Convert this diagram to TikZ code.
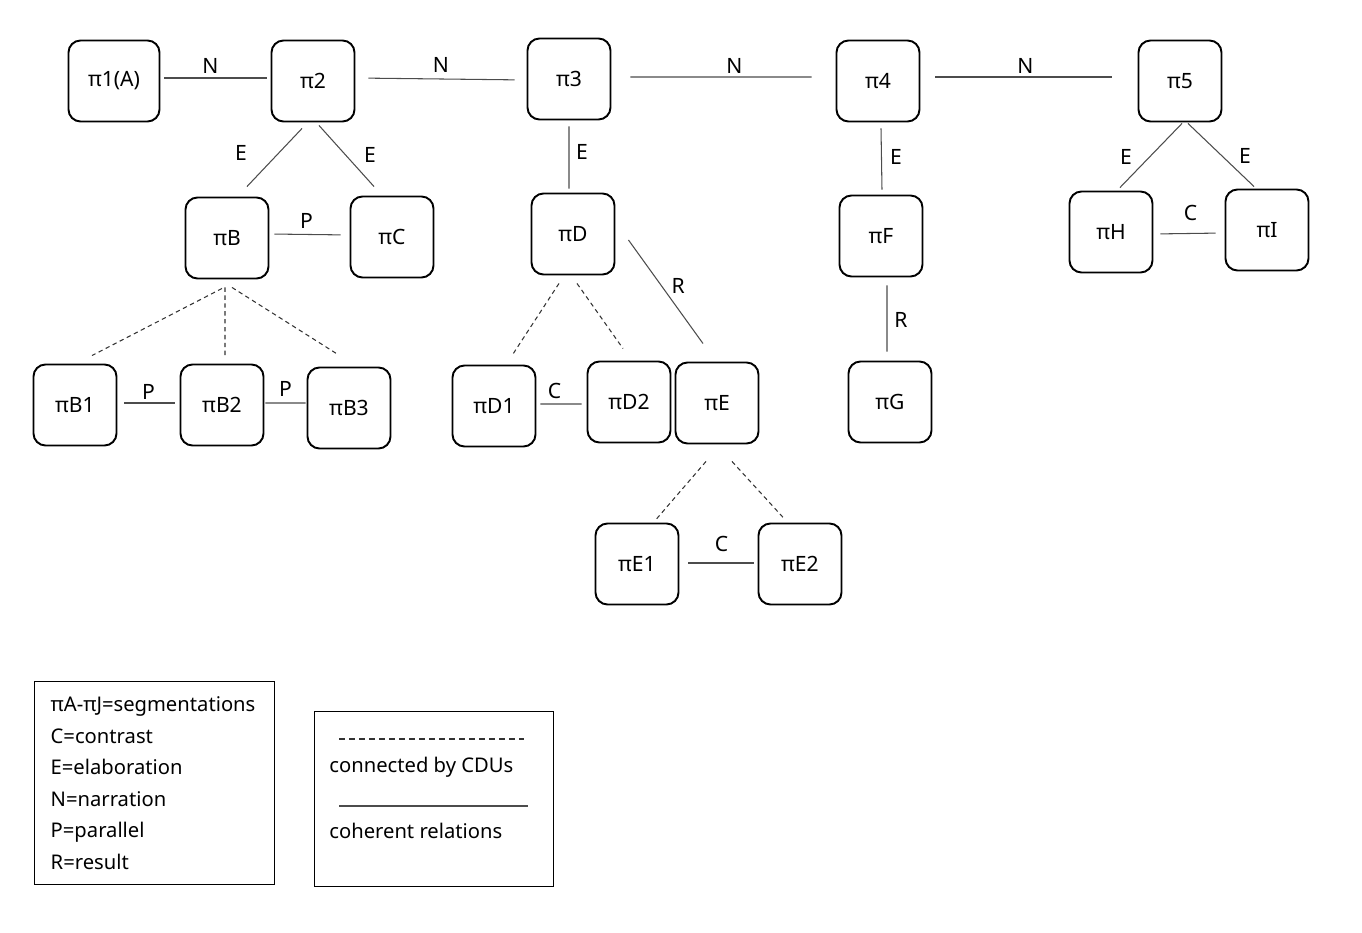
\documentclass[tikz,border=0pt]{standalone}
\usepackage{fontspec}
\setmainfont{Noto Sans}
\usepackage{tikz}
\usetikzlibrary{calc, positioning}
\tikzset{
    segnode/.style = {draw, rectangle, rounded corners=0.24cm, line width=1.1pt, inner sep=0em,
      minimum width=1.66cm, minimum height=1.62cm, node distance=0em, font=\fontsize{12}{14}\selectfont},
    textnode/.style = {draw=none, fill=none, rectangle, inner sep=0em, node distance=0em, text=black,
      font=\fontsize{12}{14}\selectfont},
    legendnode/.style = {draw, rectangle, line width=0.8pt, inner sep=0em, node distance=0em},
    rel/.style = {black!70, line width=0.6pt},
    cdu/.style = {black!80, line width=0.6pt, dash pattern=on 2.5pt off 2pt}
}

\begin{document}
\begin{tikzpicture}
    \useasboundingbox (-2.28,1.62) rectangle (24.96,-17.04);

    \node [name=p1, segnode, minimum width=1.82cm] {π1(A)};
    \node [name=p2, segnode, right of = p1, xshift=3.98cm] {π2};
    \node [name=p3, segnode, right of = p1, xshift=9.10cm, yshift=0.04cm] {π3};
    \node [name=p4, segnode, right of = p1, xshift=15.28cm] {π4};
    \node [name=p5, segnode, right of = p1, xshift=21.32cm] {π5};

    \node [name=pB, segnode, right of = p1, xshift=2.26cm, yshift=-3.14cm] {πB};
    \node [name=pC, segnode, right of = p1, xshift=5.56cm, yshift=-3.12cm] {πC};
    \node [name=pD, segnode, right of = p1, xshift=9.18cm, yshift=-3.06cm] {πD};
    \node [name=pF, segnode, right of = p1, xshift=15.34cm, yshift=-3.10cm] {πF};
    \node [name=pH, segnode, right of = p1, xshift=19.94cm, yshift=-3.02cm] {πH};
    \node [name=pI, segnode, right of = p1, xshift=23.06cm, yshift=-2.98cm] {πI};

    \node [name=pB1, segnode, right of = p1, xshift=-0.78cm, yshift=-6.48cm] {πB1};
    \node [name=pB2, segnode, right of = p1, xshift=2.16cm, yshift=-6.48cm] {πB2};
    \node [name=pB3, segnode, right of = p1, xshift=4.70cm, yshift=-6.54cm] {πB3};
    \node [name=pD1, segnode, right of = p1, xshift=7.60cm, yshift=-6.50cm] {πD1};
    \node [name=pD2, segnode, right of = p1, xshift=10.30cm, yshift=-6.42cm] {πD2};
    \node [name=pE, segnode, right of = p1, xshift=12.06cm, yshift=-6.44cm] {πE};
    \node [name=pG, segnode, right of = p1, xshift=15.52cm, yshift=-6.42cm] {πG};

    \node [name=pE1, segnode, right of = p1, xshift=10.46cm, yshift=-9.66cm] {πE1};
    \node [name=pE2, segnode, right of = p1, xshift=13.72cm, yshift=-9.66cm] {πE2};

    \draw [rel, shorten <=0.08cm, shorten >=0.08cm] ([yshift=0.06cm]p1.east) -- node [textnode, midway, xshift=-0.10cm, yshift=0.24cm] {N} ([yshift=0.06cm]p2.west);
    \draw [rel, shorten <=0.26cm, shorten >=0.24cm] ([yshift=0.06cm]p2.east) -- node [textnode, midway, yshift=0.28cm] {N} ([yshift=-0.02cm]p3.west);
    \draw [rel, shorten <=0.38cm, shorten >=0.48cm] ([yshift=0.04cm]p3.east) -- node [textnode, midway, xshift=0.22cm, yshift=0.22cm] {N} ([yshift=0.08cm]p4.west);
    \draw [rel, shorten <=0.30cm, shorten >=0.52cm] ([yshift=0.08cm]p4.east) -- node [textnode, midway, xshift=-0.07cm, yshift=0.22cm] {N} ([yshift=0.08cm]p5.west);

    \draw [rel] ([xshift=-0.22cm, yshift=-0.12cm]p2.south) -- node [textnode, midway, xshift=-0.67cm, yshift=0.10cm] {E} ([xshift=0.40cm, yshift=0.20cm]pB.north);
    \draw [rel] ([xshift=0.12cm, yshift=-0.06cm]p2.south) -- node [textnode, midway, xshift=0.47cm, yshift=0.03cm] {E} ([xshift=-0.36cm, yshift=0.18cm]pC.north);
    \draw [rel] ([yshift=-0.12cm]p3.south) -- node [textnode, midway, xshift=0.26cm, yshift=0.12cm] {E} ([xshift=-0.08cm, yshift=0.08cm]pD.north);
    \draw [rel] ([xshift=0.06cm, yshift=-0.12cm]p4.south) -- node [textnode, midway, xshift=0.29cm, yshift=0.05cm] {E} ([xshift=0.02cm, yshift=0.10cm]pF.north);
    \draw [rel] ([xshift=0.04cm, yshift=-0.02cm]p5.south) -- node [textnode, midway, xshift=-0.50cm, yshift=-0.02cm] {E} ([xshift=0.18cm, yshift=0.06cm]pH.north);
    \draw [rel] ([xshift=0.16cm, yshift=-0.02cm]p5.south) -- node [textnode, midway, xshift=0.48cm, yshift=-0.01cm] {E} ([xshift=-0.26cm, yshift=0.04cm]pI.north);

    \draw [rel, shorten <=0.10cm, shorten >=0.18cm] ([yshift=0.08cm]pB.east) -- node [textnode, midway, xshift=-0.06cm, yshift=0.28cm] {P} ([yshift=0.04cm]pC.west);
    \draw [rel, shorten <=0.14cm, shorten >=0.18cm] ([yshift=-0.04cm]pH.east) -- node [textnode, midway, xshift=0.03cm, yshift=0.41cm] {C} ([yshift=-0.06cm]pI.west);
    \draw [rel, shorten <=0.14cm, shorten >=0.10cm] ([yshift=0.04cm]pB1.east) -- node [textnode, midway, yshift=0.22cm] {P} ([yshift=0.04cm]pB2.west);
    \draw [rel, shorten <=0.02cm, shorten >=0.02cm] ([yshift=0.04cm]pB2.east) -- node [textnode, midway, yshift=0.28cm] {P} ([yshift=0.10cm]pB3.west);
    \draw [rel, shorten <=0.08cm, shorten >=0.10cm] ([yshift=0.04cm]pD1.east) -- node [textnode, midway, xshift=-0.14cm, yshift=0.26cm] {C} ([yshift=-0.04cm]pD2.west);
    \draw [rel, shorten <=0.18cm, shorten >=0.08cm] ([yshift=0.02cm]pE1.east) -- node [textnode, midway, xshift=0.06cm, yshift=0.38cm] {C} ([yshift=0.02cm]pE2.west);

    \draw [rel] ([xshift=0.26cm, yshift=-0.12cm]pD.east) -- node [textnode, midway, xshift=0.25cm, yshift=0.11cm] {R} ([xshift=-0.28cm, yshift=0.36cm]pE.north);
    \draw [rel] ([xshift=0.12cm, yshift=-0.16cm]pF.south) -- node [textnode, midway, xshift=0.28cm, yshift=-0.02cm] {R} ([xshift=-0.06cm, yshift=0.18cm]pG.north);

    \draw [cdu] ([xshift=-0.10cm, yshift=-0.18cm]pB.south) -- ([xshift=0.34cm, yshift=0.16cm]pB1.north);
    \draw [cdu] ([xshift=-0.04cm, yshift=-0.16cm]pB.south) -- ([xshift=0.06cm, yshift=0.14cm]pB2.north);
    \draw [cdu] ([xshift=0.10cm, yshift=-0.16cm]pB.south) -- ([xshift=-0.22cm, yshift=0.24cm]pB3.north);
    \draw [cdu] ([xshift=-0.28cm, yshift=-0.16cm]pD.south) -- ([xshift=0.36cm, yshift=0.18cm]pD1.north);
    \draw [cdu] ([xshift=0.08cm, yshift=-0.16cm]pD.south) -- ([xshift=-0.12cm, yshift=0.24cm]pD2.north);
    \draw [cdu] ([xshift=-0.22cm, yshift=-0.34cm]pE.south) -- ([xshift=0.38cm, yshift=0.06cm]pE1.north);
    \draw [cdu] ([xshift=0.30cm, yshift=-0.34cm]pE.south) -- ([xshift=-0.30cm, yshift=0.06cm]pE2.north);

    \node [name=key, legendnode, right of = p1, xshift=-1.60cm, yshift=-12.00cm, anchor=north west,
        minimum width=4.80cm, minimum height=4.06cm, inner xsep=0.32cm, text width=4.16cm, align=left,
        font=\fontsize{11.5}{18}\selectfont]
        {\mbox{πA-πJ=segmentations}\\C=contrast\\E=elaboration\\N=narration\\P=parallel\\R=result};
    \node [name=lines, legendnode, right of = p1, xshift=4.00cm, yshift=-12.60cm, anchor=north west,
        minimum width=4.78cm, minimum height=3.50cm] {};
    \draw [cdu, dash pattern=on 3.4pt off 2.3pt] ([xshift=0.50cm, yshift=-0.56cm]lines.north west) -- ([xshift=4.20cm, yshift=-0.56cm]lines.north west);
    \node [name=cdutext, textnode, anchor=west, font=\fontsize{11.5}{14}\selectfont] at ([xshift=0.30cm, yshift=-1.12cm]lines.north west) {connected by CDUs};
    \draw [rel] ([xshift=0.50cm, yshift=-1.90cm]lines.north west) -- ([xshift=4.28cm, yshift=-1.90cm]lines.north west);
    \node [name=reltext, textnode, anchor=west, font=\fontsize{11.5}{14}\selectfont] at ([xshift=0.30cm, yshift=-2.40cm]lines.north west) {coherent relations};
\end{tikzpicture}
\end{document}
